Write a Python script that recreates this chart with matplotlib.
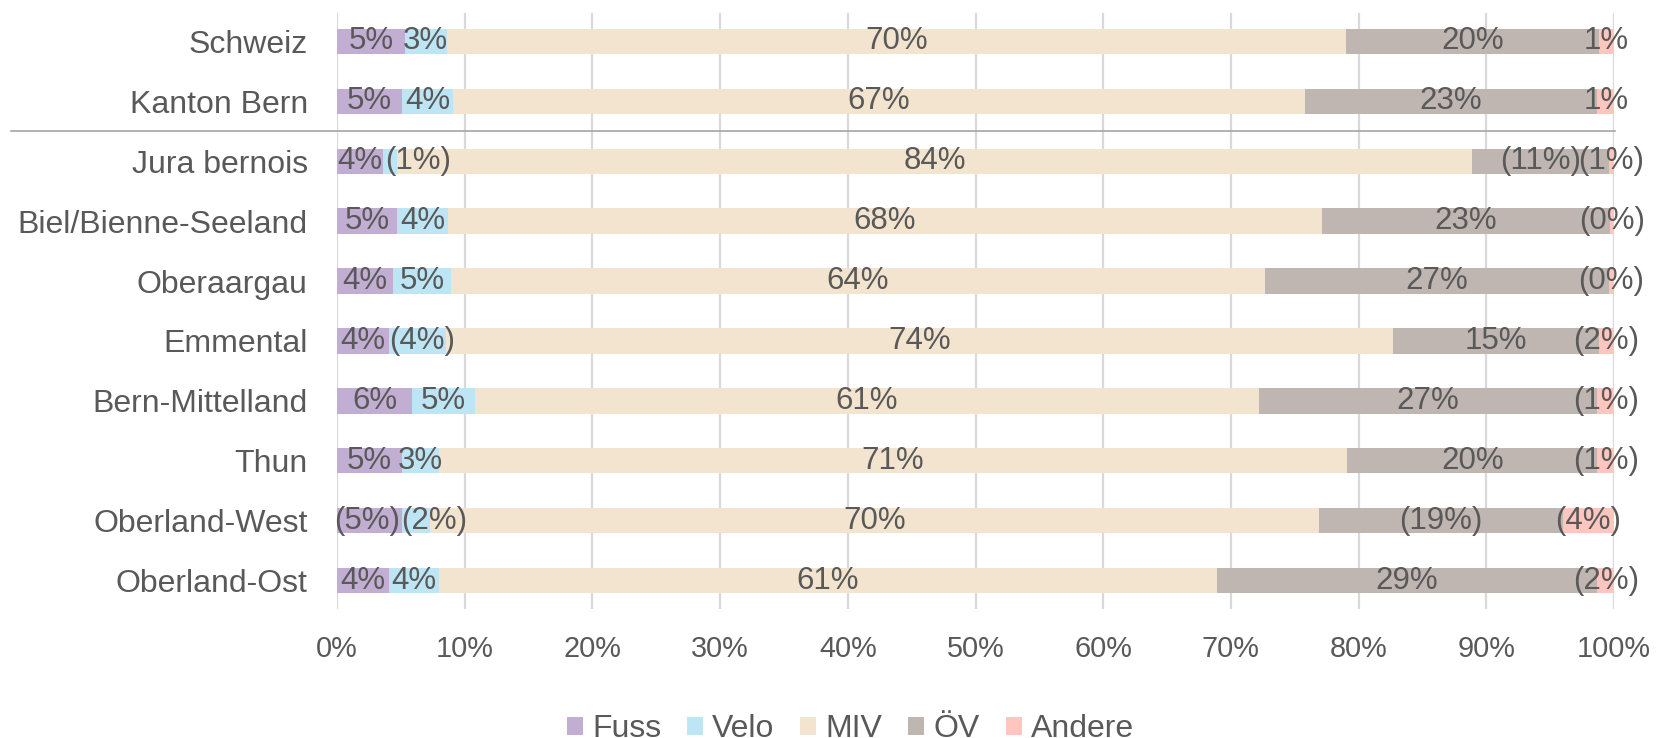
import matplotlib
matplotlib.use('Agg')
import matplotlib.pyplot as plt
from matplotlib.transforms import blended_transform_factory
from matplotlib.patches import Patch
from matplotlib.lines import Line2D
from matplotlib.ticker import PercentFormatter

categories = ["Schweiz", "Kanton Bern", "Jura bernois", "Biel/Bienne-Seeland", "Oberaargau",
              "Emmental", "Bern-Mittelland", "Thun", "Oberland-West", "Oberland-Ost"]
series_names = ["Fuss", "Velo", "MIV", "ÖV", "Andere"]
fuss = [5.3, 5.1, 3.6, 4.7, 4.4, 4.1, 5.9, 5.1, 5.1, 4.1]
velo = [3.3, 4.0, 1.1, 4.0, 4.5, 4.4, 4.9, 2.9, 2.2, 3.9]
miv = [70.4, 66.7, 84.2, 68.4, 63.8, 74.2, 61.4, 71.1, 69.6, 60.9]
oev = [19.8, 22.9, 10.7, 22.6, 26.9, 16.1, 26.5, 19.6, 19.1, 29.8]
andere = [1.2, 1.3, 0.4, 0.3, 0.4, 1.2, 1.3, 1.3, 4.0, 1.3]

fuss_labels = ["5%", "5%", "4%", "5%", "4%", "4%", "6%", "5%", "(5%)", "4%"]
velo_labels = ["3%", "4%", "(1%)", "4%", "5%", "(4%)", "5%", "3%", "(2%)", "4%"]
miv_labels = ["70%", "67%", "84%", "68%", "64%", "74%", "61%", "71%", "70%", "61%"]
oev_labels = ["20%", "23%", "(11%)", "23%", "27%", "15%", "27%", "20%", "(19%)", "29%"]
andere_labels = ["1%", "1%", "(1%)", "(0%)", "(0%)", "(2%)", "(1%)", "(1%)", "(4%)", "(2%)"]

x_ticks = [0, 10, 20, 30, 40, 50, 60, 70, 80, 90, 100]

colors = ["#C3AED3", "#BDE5F4", "#F2E4CF", "#BFB6B1", "#FFC6BF"]
text_color = "#595959"
FONT = "Liberation Sans"
FS = 22.5

plt.rcParams['font.family'] = [FONT, 'DejaVu Sans']

fig = plt.figure(figsize=(16.61, 7.38), dpi=100)
ax = fig.add_axes([337 / 1661, 1 - 609 / 738, (1614 - 337) / 1661, (609 - 13) / 738])

# small horizontal nudges (in % units) for crowded labels: (series index, row index) -> dx
nudge = {(1, 2): 2.2, (1, 8): 1.4, (0, 8): -0.2, (1, 5): 0.4}

values = [fuss, velo, miv, oev, andere]
labels = [fuss_labels, velo_labels, miv_labels, oev_labels, andere_labels]
ypos = list(range(len(categories)))
left = [0.0] * len(categories)
for si, (name, vals, labs, col) in enumerate(zip(series_names, values, labels, colors)):
    ax.barh(ypos, vals, left=left, height=0.42, color=col, label=name, zorder=3)
    for y, l, v, t in zip(ypos, left, vals, labs):
        dx = nudge.get((si, y), 0.0)
        ax.text(l + v / 2 + dx, y, t, ha='center', va='center', fontsize=FS,
                color=text_color, zorder=5)
    left = [a + b for a, b in zip(left, vals)]

ax.set_xlim(0, 100)
ax.set_ylim(9.47, -0.47)
ax.set_xticks(x_ticks)
ax.xaxis.set_major_formatter(PercentFormatter(decimals=0))
ax.set_yticks(ypos)
ax.set_yticklabels(categories)
ax.tick_params(axis='both', length=0, labelcolor=text_color)
ax.tick_params(axis='y', pad=21, labelsize=23.0)
ax.tick_params(axis='x', pad=19, labelsize=20.8)
ax.grid(axis='x', color='#D9D9D9', linewidth=1.6, zorder=0)
ax.set_axisbelow(True)
for s in ax.spines.values():
    s.set_visible(False)

# separator line between overview rows and regions
trans = blended_transform_factory(fig.transFigure, ax.transData)
fig.add_artist(Line2D([11 / 1661, 1615 / 1661], [1.5, 1.5], transform=trans,
                      color='#A6A6A6', linewidth=1.2))

handles = [Patch(facecolor=c, edgecolor='none') for c in colors]
fig.legend(handles, series_names, loc='center', bbox_to_anchor=(0.512, 0.012),
           ncol=5, frameon=False, fontsize=23, labelcolor=text_color,
           handlelength=0.5, handleheight=0.5, handletextpad=0.3, columnspacing=0.8)

fig.savefig('out.png', dpi=100)
